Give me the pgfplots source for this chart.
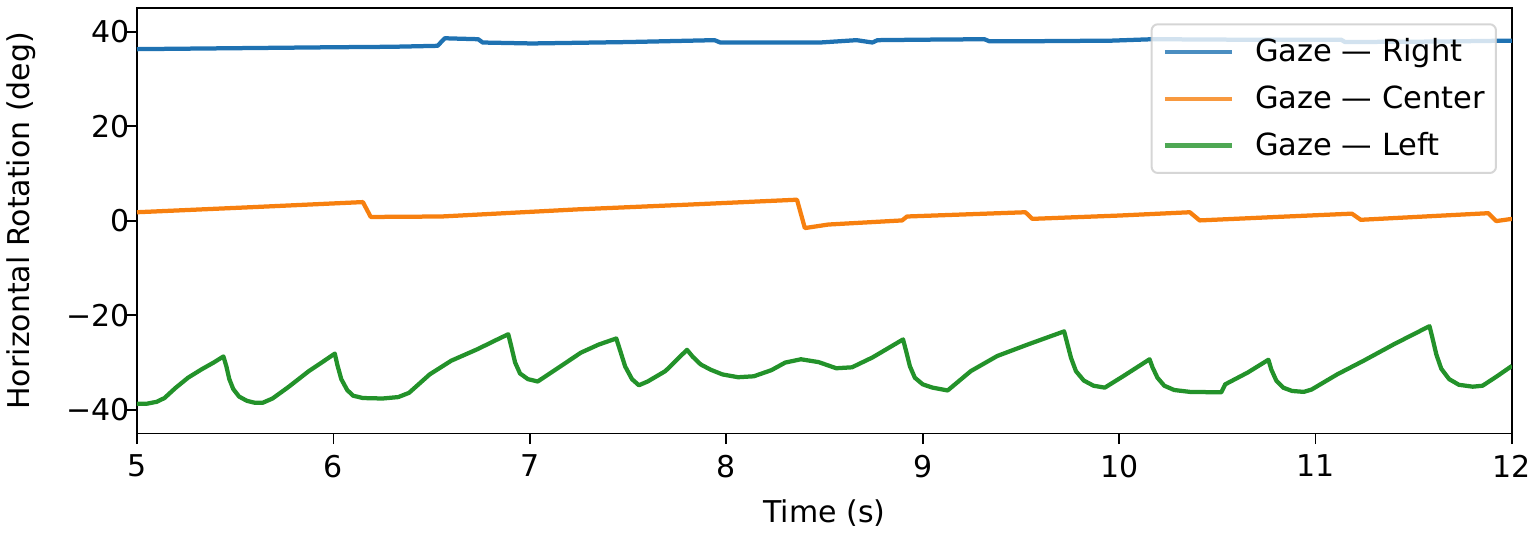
\documentclass[border=0pt]{standalone}
\usepackage{fontspec}
\setmainfont{DejaVu Sans}
\usepackage{pgfplots}
\pgfplotsset{compat=1.18}
\definecolor{cblue}{HTML}{1F72B2}
\definecolor{corange}{HTML}{F7800F}
\definecolor{cgreen}{HTML}{23922A}
\newcommand\fnt{\fontsize{12}{14.4}\selectfont}
\begin{document}
\begin{tikzpicture}
\begin{axis}[
  scale only axis, width=550pt, height=170.2pt,
  xmin=5, xmax=12, ymin=-45, ymax=45,
  xtick={5,6,7,8,9,10,11,12},
  xticklabels={5,6,7,8,9,10,11,12},
  ytick={-40,-20,0,20,40},
  yticklabels={−40,−20,0,20,40},
  tick align=outside, major tick length=4.3pt,
  xtick pos=bottom, ytick pos=left,
  axis line style={line width=0.7pt},
  every tick/.style={black, line width=0.7pt},
  font=\fnt,
  xticklabel style={anchor=north, inner sep=0pt, yshift=-4pt, font=\fnt},
  yticklabel style={anchor=east, inner sep=0pt, xshift=1.6pt, font=\fnt},
  xlabel={Time (s)},
  ylabel={Horizontal Rotation (deg)},
  xlabel style={at={(axis description cs:0.5,-0.2092)}, anchor=base, inner sep=0pt, font=\fnt},
  ylabel style={at={(axis description cs:-0.08455,0.5)}, anchor=center, inner sep=0pt, font=\fnt},
  legend cell align=left,
  legend image code/.code={\draw[#1] (0pt,0pt) -- (26.7pt,0pt);},
  legend style={at={(axis description cs:1,1)}, anchor=north east,
    xshift=-6pt, yshift=-6.1pt, draw=black!20, line width=0.8pt,
    rounded corners=2.5pt, fill=white, fill opacity=0.8, text opacity=1,
    draw opacity=0.8,
    inner xsep=4.5pt, inner ysep=5.6pt, row sep=8.1pt, column sep=8.5pt,
    font=\fontsize{12.2}{14.6}\selectfont,
    nodes={inner sep=0pt}},
  every axis plot/.append style={line width=1.7pt, line join=round},
]
\addplot[cblue] coordinates {
(5.00,36.3) (5.50,36.5) (6.00,36.7) (6.30,36.8) (6.53,37.0) (6.567,38.6) (6.65,38.5) (6.737,38.4)
(6.76,37.7) (7.01,37.5) (7.50,37.8) (7.94,38.2) (7.97,37.7) (8.20,37.7) (8.477,37.7)
(8.663,38.2) (8.744,37.7) (8.77,38.2) (9.00,38.3) (9.314,38.4) (9.34,37.95) (9.65,38.0)
(9.965,38.1) (10.17,38.4) (10.60,38.3) (11.13,38.3) (11.15,37.8) (11.60,37.9) (12.00,38.1)
};
\addlegendentry{Gaze — Right}
\addplot[corange] coordinates {
(5.00,1.8) (5.60,2.9) (6.15,3.95) (6.19,0.8) (6.55,0.9) (7.24,2.4) (7.80,3.4) (8.36,4.45)
(8.40,-1.55) (8.52,-0.8) (8.895,0.07) (8.92,0.9) (9.523,1.8) (9.558,0.4) (10.00,1.1) (10.36,1.8)
(10.41,0.07) (10.80,0.8) (11.185,1.5) (11.23,0.2) (11.88,1.6) (11.92,-0.07) (12.00,0.4)
};
\addlegendentry{Gaze — Center}
\addplot[cgreen] coordinates {
(5.00,-38.7) (5.05,-38.7) (5.10,-38.3) (5.14,-37.5) (5.195,-35.4) (5.26,-33.2) (5.33,-31.4) (5.39,-30.0) (5.44,-28.7)
(5.455,-30.8) (5.47,-33.5) (5.49,-35.6) (5.52,-37.2) (5.56,-38.1) (5.60,-38.5) (5.64,-38.5) (5.69,-37.6) (5.77,-35.2) (5.875,-31.8) (5.94,-30.0) (6.007,-28.1)
(6.02,-30.5) (6.04,-33.5) (6.07,-35.8) (6.10,-37.0) (6.15,-37.5) (6.25,-37.6) (6.33,-37.3) (6.385,-36.4) (6.49,-32.5) (6.60,-29.6) (6.737,-27.1) (6.81,-25.6) (6.89,-24.0)
(6.905,-26.5) (6.925,-30.0) (6.95,-32.3) (6.99,-33.5) (7.04,-34.0) (7.145,-31.1) (7.26,-27.9) (7.35,-26.2) (7.44,-24.9)
(7.46,-27.5) (7.485,-30.8) (7.52,-33.5) (7.555,-34.8) (7.60,-34.0) (7.69,-31.8) (7.80,-27.3)
(7.83,-28.8) (7.87,-30.4) (7.92,-31.5) (7.98,-32.5) (8.06,-33.1) (8.14,-32.9) (8.23,-31.6) (8.30,-30.0) (8.38,-29.3) (8.47,-29.9) (8.56,-31.2) (8.64,-31.0) (8.745,-28.9) (8.90,-25.1)
(8.915,-27.5) (8.935,-30.8) (8.96,-33.2) (9.00,-34.6) (9.05,-35.3) (9.127,-35.9) (9.245,-31.8) (9.38,-28.6) (9.54,-26.1) (9.72,-23.4)
(9.735,-25.8) (9.755,-29.0) (9.78,-31.8) (9.82,-33.8) (9.87,-34.9) (9.927,-35.3) (10.02,-32.9) (10.155,-29.3)
(10.17,-31.0) (10.195,-33.2) (10.23,-34.9) (10.28,-35.8) (10.36,-36.2) (10.52,-36.3) (10.54,-34.6) (10.655,-32.1) (10.76,-29.4)
(10.775,-31.5) (10.80,-33.8) (10.835,-35.3) (10.88,-36.0) (10.94,-36.2) (10.98,-35.7) (11.11,-32.5) (11.245,-29.6) (11.40,-26.1) (11.58,-22.3)
(11.595,-24.8) (11.615,-28.3) (11.64,-31.3) (11.68,-33.5) (11.73,-34.7) (11.80,-35.1) (11.85,-34.9) (11.92,-33.0) (12.00,-30.7)
};
\addlegendentry{Gaze — Left}
\end{axis}
\pgfresetboundingbox
\useasboundingbox (-54.8pt,-40.2pt) rectangle (559.2pt,173.4pt);
\end{tikzpicture}
\end{document}
